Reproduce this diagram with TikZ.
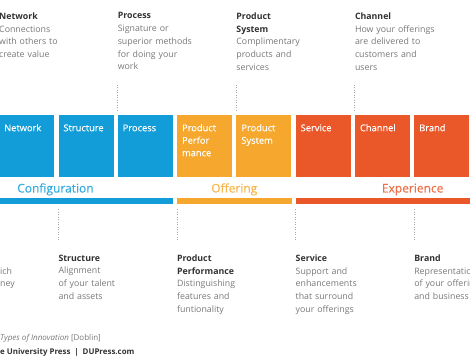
\documentclass[tikz,border=0pt]{standalone}
\usepackage{fontspec}
\setmainfont{Open Sans}
\newfontfamily\semib{Open Sans}[FakeBold=0.35]
\usetikzlibrary{matrix,calc}

\definecolor{cfgblue}{RGB}{18,157,217}
\definecolor{offorange}{RGB}{245,168,45}
\definecolor{expred}{RGB}{234,88,42}
\definecolor{titlegray}{RGB}{50,50,50}
\definecolor{descgray}{RGB}{120,120,120}
\newcommand{\ttl}[1]{{\color{titlegray}\bfseries #1}}

\begin{document}
\begin{tikzpicture}[x=1pt,y=1pt]
  \def\h{363}
  \def\toprow{350.5}
  \def\botrow{108.5}

\tikzstyle{box}=[text=white, text width=45pt, inner xsep=5pt, inner ysep=5pt, text height=11pt, text depth=41pt, align=left, font=\semib\fontsize{9.3}{12.5}\selectfont]
\tikzstyle{desc}=[text=descgray, text width=100pt, inner sep=0pt, align=left, anchor=north west, font=\fontsize{8.8}{12.7}\selectfont]
\tikzstyle{cat}=[inner sep=0pt, anchor=base west, font=\semib\fontsize{12}{14}\selectfont]
\tikzstyle{dotline}=[gray!70, line width=0.8pt, dash pattern=on 0.8pt off 1.7pt]

\useasboundingbox (0,0) rectangle (470,\h);
\clip (0,0) rectangle (470,\h);

\matrix (seq) [matrix of nodes, column sep=4.3pt, inner sep=0pt, anchor=north west, nodes={box}] at (-1,\h-115) {
 |[fill=cfgblue]| Network & |[fill=cfgblue]| Structure & |[fill=cfgblue]| Process & |[fill=offorange]| Product Perfor mance & |[fill=offorange]| Product System & |[fill=expred]| Service & |[fill=expred]| Channel & |[fill=expred]| Brand \\};

\node[desc] (network) at (seq-1-1.west |- 0,\toprow) {\ttl{Network}\\Connections\\with others to\\create value};
\node[desc] (process) at (seq-1-3.west |- 0,\toprow) {\ttl{Process}\\Signature or\\superior methods\\for doing your\\work};
\node[desc] (prodsys) at (seq-1-5.west |- 0,\toprow) {\ttl{Product}\\\ttl{System}\\Complimentary\\products and\\services};
\node[desc] (channel) at (seq-1-7.west |- 0,\toprow) {\ttl{Channel}\\How your offerings\\are delivered to\\customers and\\users};

\node[desc] (frag) at (0,\botrow-12.7) {ich\\ney};
\node[desc] (structure) at (seq-1-2.west |- 0,\botrow) {\ttl{Structure}\\Alignment\\of your talent\\and assets};
\node[desc] (prodperf) at (seq-1-4.west |- 0,\botrow) {\ttl{Product}\\\ttl{Performance}\\Distinguishing\\features and\\funtionality};
\node[desc] (service) at (seq-1-6.west |- 0,\botrow) {\ttl{Service}\\Support and\\enhancements\\that surround\\your offerings};
\node[desc] (brand) at (seq-1-8.west |- 0,\botrow) {\ttl{Brand}\\Representation\\of your offerings\\and business};

\draw[dotline, shorten <=4.5pt, shorten >=14pt] (seq-1-3.north west) -- (process.south west);
\draw[dotline, shorten <=4.5pt, shorten >=14pt] (seq-1-5.north west) -- (prodsys.south west);
\draw[dotline, shorten <=4.5pt, shorten >=14pt] (seq-1-7.north west) -- (channel.south west);
\draw[dotline, shorten <=32pt, shorten >=15pt] (seq-1-2.south west) -- (structure.north west);
\draw[dotline, shorten <=32pt, shorten >=15pt] (seq-1-4.south west) -- (prodperf.north west);
\draw[dotline, shorten <=32pt, shorten >=15pt] (seq-1-6.south west) -- (service.north west);
\draw[dotline, shorten <=32pt, shorten >=15pt] (seq-1-8.south west) -- (brand.north west);

\node[cat, text=cfgblue!85] (config) at (17,\h-192.5) {Configuration};
\node[cat, text=offorange!85] (offer) at (211,\h-192.5) {Offering};
\node[cat, text=expred!85] (exper) at (381.7,\h-192.5) {Experience};

\fill[cfgblue] ($(seq-1-1.south west)+(0,-21)$) rectangle ($(seq-1-3.south east)+(0,-26.5)$);
\fill[offorange] ($(seq-1-4.south west)+(0,-21)$) rectangle ($(seq-1-5.south east)+(0,-26.5)$);
\fill[expred] ($(seq-1-6.south west)+(0,-21)$) rectangle ($(seq-1-8.south east)+(3,-26.5)$);

\node[inner sep=0pt, anchor=base west, text=descgray, font=\fontsize{8}{9}\selectfont] (src) at (0,\h-341) {\textit{Types of Innovation} [Doblin]};
\node[inner sep=0pt, anchor=base west, text=titlegray, font=\bfseries\fontsize{7.9}{9}\selectfont] (pub) at (0,\h-355) {e University Press\enspace|\enspace DUPress.com};
\end{tikzpicture}
\end{document}
